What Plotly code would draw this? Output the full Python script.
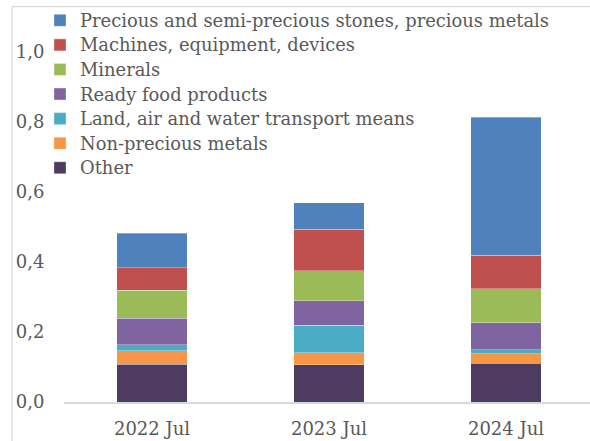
import plotly.graph_objects as go

categories = ["2022 Jul", "2023 Jul", "2024 Jul"]

# bottom-to-top stack order
series_names = [
    "Other",
    "Non-precious metals",
    "Land, air and water transport means",
    "Ready food products",
    "Minerals",
    "Machines, equipment, devices",
    "Precious and semi-precious stones, precious metals",
]
other = [0.108, 0.106, 0.111]
non_precious = [0.038, 0.035, 0.027]
transport = [0.017, 0.079, 0.011]
food = [0.076, 0.069, 0.078]
minerals = [0.081, 0.086, 0.097]
machines = [0.064, 0.119, 0.095]
precious = [0.098, 0.075, 0.394]
series_values = [other, non_precious, transport, food, minerals, machines, precious]
colors = ["#4E3B61", "#F79646", "#4BACC6", "#8064A2", "#9BBB59", "#C0504D", "#4F81BD"]

tick_vals = [0, 0.2, 0.4, 0.6, 0.8, 1.0]

FONT = "DejaVu Serif"
GREY = "#595959"
W, H = 590, 441
ML, MR, MT, MB = 64, 0, 7, 39
PW, PH = W - ML - MR, H - MT - MB
CAT_PX = 177.0
FIRST_CENTER = 152.0

fig = go.Figure()
for name, vals, col in zip(series_names, series_values, colors):
    fig.add_trace(go.Bar(
        x=categories, y=vals,
        name='<span style="font-size:17.9px">' + name + "</span>",
        marker=dict(color=col, line=dict(color="rgba(255,255,255,0.55)", width=0.6)),
    ))

bx = (12 - ML) / PW
by = (H - MB - 6.7) / PH
border = dict(color="#D9D9D9", width=1.2)

fig.update_layout(
    width=W, height=H,
    margin=dict(l=ML, r=MR, t=MT, b=MB, pad=0),
    barmode="stack", bargap=0.6,
    paper_bgcolor="white", plot_bgcolor="white",
    separators=", ",
    font=dict(family=FONT, size=18, color=GREY),
    showlegend=True,
    hovermode=False,
    legend=dict(
        traceorder="reversed",
        x=(40 - ML) / PW, xanchor="left",
        y=1 + (MT - 3) / PH, yanchor="top",
        bgcolor="rgba(0,0,0,0)",
        font=dict(family=FONT, size=16.6, color=GREY),
        tracegroupgap=0,
    ),
    xaxis=dict(
        type="category",
        range=[-(FIRST_CENTER - ML) / CAT_PX, -(FIRST_CENTER - ML) / CAT_PX + PW / CAT_PX],
        showline=True, linecolor="#D9D9D9", linewidth=1.5,
        showgrid=False,
        ticks="outside", ticklen=10, tickcolor="rgba(0,0,0,0)",
        tickfont=dict(family=FONT, size=18, color=GREY),
    ),
    yaxis=dict(
        range=[0, PH / 350.0],
        tickvals=tick_vals, tickformat=".1f",
        showgrid=False, zeroline=False, showline=False,
        ticks="outside", ticklen=15, tickcolor="rgba(0,0,0,0)",
        tickfont=dict(family=FONT, size=18, color=GREY),
    ),
    shapes=[
        dict(type="line", xref="paper", yref="paper", x0=bx, x1=bx, y0=-0.2, y1=by,
             line=border, layer="below"),
        dict(type="line", xref="paper", yref="paper", x0=bx, x1=1.2, y0=by, y1=by,
             line=border, layer="below"),
    ],
)

fig.write_html(
    "out.html",
    config={"displayModeBar": False},
    post_script="document.body.style.margin='0';document.body.style.overflow='hidden';",
)
